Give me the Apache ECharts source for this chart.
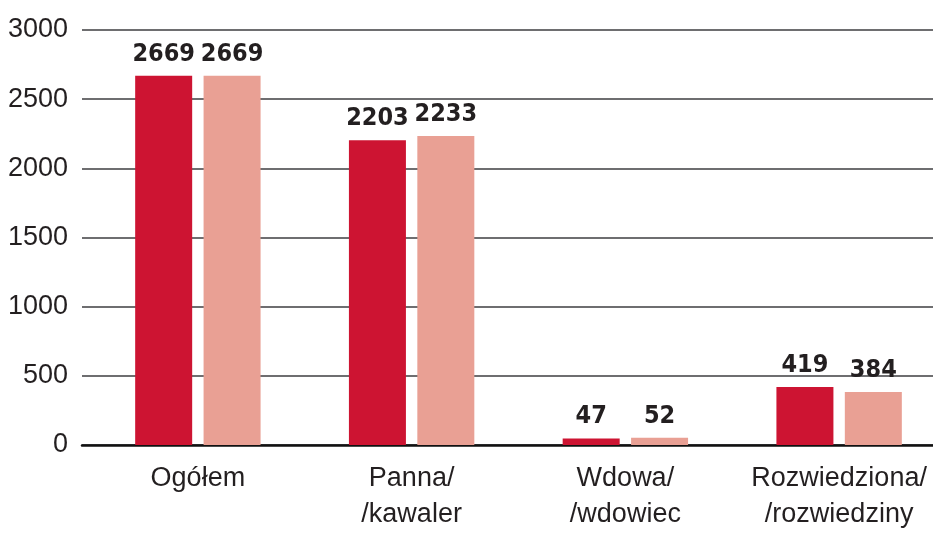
<!DOCTYPE html>
<html>
<head>
<meta charset="utf-8">
<script src="https://cdn.jsdelivr.net/npm/echarts@6/dist/echarts.min.js"></script>
<style>
    html, body { margin: 0; padding: 0; background: #fff; }
    #chart { width: 933px; height: 533px; }
</style>
</head>
<body>
<div id="chart"></div>
<script>
var categories = ['Ogółem', 'Panna/\n/kawaler', 'Wdowa/\n/wdowiec', 'Rozwiedziona/\n/rozwiedziny'];
var seriesA = [2669, 2203, 47, 419];
var seriesB = [2669, 2233, 52, 384];
var yTicks = { min: 0, max: 3000, interval: 500 };

var darkRed = '#CD1432';
var lightRed = '#E9A094';
var textColor = '#231F20';
var boldFont = "'DejaVu Sans Condensed', 'Liberation Sans', sans-serif";

var myChart = echarts.init(document.getElementById('chart'));

function barSeries(data, color) {
    return {
        type: 'bar',
        xAxisIndex: 1,
        yAxisIndex: 1,
        data: data,
        barWidth: 57,
        barGap: '20%',
        itemStyle: { color: color },
        label: {
            show: true,
            position: 'top',
            distance: 9,
            color: textColor,
            fontFamily: boldFont,
            fontWeight: 'bold',
            fontSize: 25
        }
    };
}

var option = {
    animation: false,
    grid: [
        // grid 0 carries the split lines and the base line (82px .. right edge)
        { left: 82, top: 30, right: 0, bottom: 88, outerBoundsMode: 'none', containLabel: false },
        // grid 1 carries the bars, shifted so the category centres line up
        { left: 91, top: 30, width: 855, bottom: 88, outerBoundsMode: 'none', containLabel: false }
    ],
    xAxis: [
        {
            type: 'value',
            gridIndex: 0,
            min: 0,
            max: 1,
            axisLine: { show: true, onZero: false, lineStyle: { color: '#111', width: 2.5 } },
            axisTick: { show: false },
            axisLabel: { show: false },
            splitLine: { show: false }
        },
        {
            type: 'category',
            gridIndex: 1,
            data: categories,
            axisLine: { show: false },
            axisTick: { show: false },
            axisLabel: {
                interval: 0,
                margin: 16,
                color: textColor,
                fontFamily: 'Liberation Sans',
                fontSize: 27,
                lineHeight: 36
            }
        }
    ],
    yAxis: [
        {
            type: 'value',
            gridIndex: 0,
            min: yTicks.min,
            max: yTicks.max,
            interval: yTicks.interval,
            axisLine: { show: false },
            axisTick: { show: false },
            axisLabel: {
                margin: 14,
                color: textColor,
                fontFamily: 'Liberation Sans',
                fontSize: 27,
                formatter: function (v) { return String(v); }
            },
            splitLine: { lineStyle: { color: '#6E6E70', width: 2 } }
        },
        {
            type: 'value',
            gridIndex: 1,
            min: yTicks.min,
            max: yTicks.max,
            interval: yTicks.interval,
            show: false,
            splitLine: { show: false }
        }
    ],
    series: [
        barSeries(seriesA, darkRed),
        barSeries(seriesB, lightRed)
    ]
};
myChart.setOption(option);
</script>
</body>
</html>
